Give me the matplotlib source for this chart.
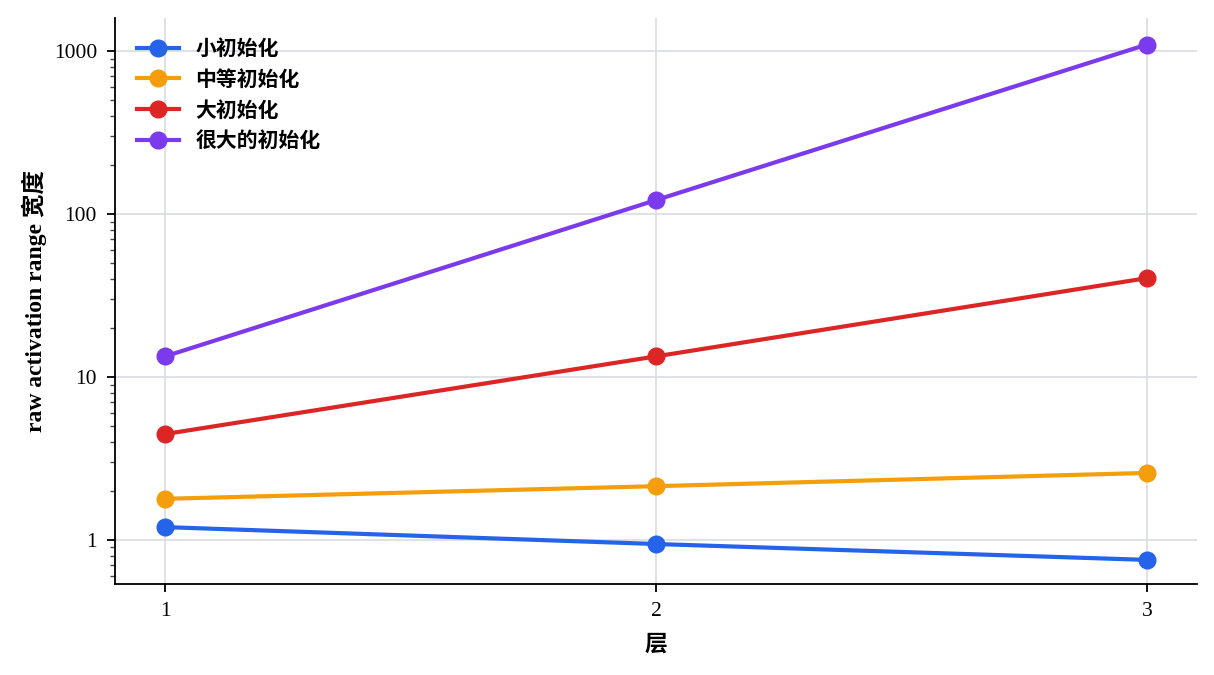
import matplotlib
matplotlib.use("Agg")
import matplotlib.pyplot as plt
from matplotlib.ticker import FixedLocator, FixedFormatter, LogLocator, NullFormatter

plt.rcParams['font.family'] = ['Liberation Serif', 'Noto Sans CJK SC', 'DejaVu Sans']

layers = [1, 2, 3]
series_names = ['小初始化', '中等初始化', '大初始化', '很大的初始化']
small_init = [1.20, 0.945, 0.755]
medium_init = [1.79, 2.14, 2.58]
large_init = [4.47, 13.4, 40.5]
very_large_init = [13.4, 122, 1100]
colors = ['#2563eb', '#f59e0b', '#dc2626', '#7c3aed']
y_ticks = [1, 10, 100, 1000]
y_tick_labels = ['1', '10', '100', '1000']

fig = plt.figure(figsize=(12.14, 6.75), dpi=100)
ax = fig.add_axes([115/1214, 1-584/675, (1197-115)/1214, (584-18)/675])

for name, vals, c in zip(series_names, [small_init, medium_init, large_init, very_large_init], colors):
    ax.plot(layers, vals, color=c, lw=3.0, marker='o', ms=12, label=name, zorder=3)

ax.set_yscale('log')
ax.set_xlim(0.898, 3.102)
ax.set_ylim(0.537, 1600)
ax.set_xticks(layers)
ax.set_xticklabels([str(l) for l in layers])
ax.yaxis.set_major_locator(FixedLocator(y_ticks))
ax.yaxis.set_major_formatter(FixedFormatter(y_tick_labels))
ax.yaxis.set_minor_locator(LogLocator(base=10, subs=range(2, 10)))
ax.yaxis.set_minor_formatter(NullFormatter())

ax.grid(True, which='major', color='#d9dce3', lw=1.2, zorder=0)
ax.set_axisbelow(True)
for s in ['top', 'right']:
    ax.spines[s].set_visible(False)
for s in ['left', 'bottom']:
    ax.spines[s].set_linewidth(1.3)

ax.tick_params(axis='both', which='major', labelsize=15.5, length=6, width=1.3, pad=7)
ax.tick_params(axis='y', which='minor', length=3.5, width=1.0, color='#444444')

ax.set_xlabel('层', fontsize=16.5, fontweight='bold', labelpad=10)
ax.set_ylabel('raw activation range 宽度', fontsize=17, fontweight='bold', labelpad=5)

leg = ax.legend(loc='upper left', frameon=False, prop={'weight': 'bold', 'size': 15},
                handlelength=2.0, handletextpad=0.8, borderaxespad=0.65, labelspacing=0.52)

fig.savefig('out.png', dpi=100)
